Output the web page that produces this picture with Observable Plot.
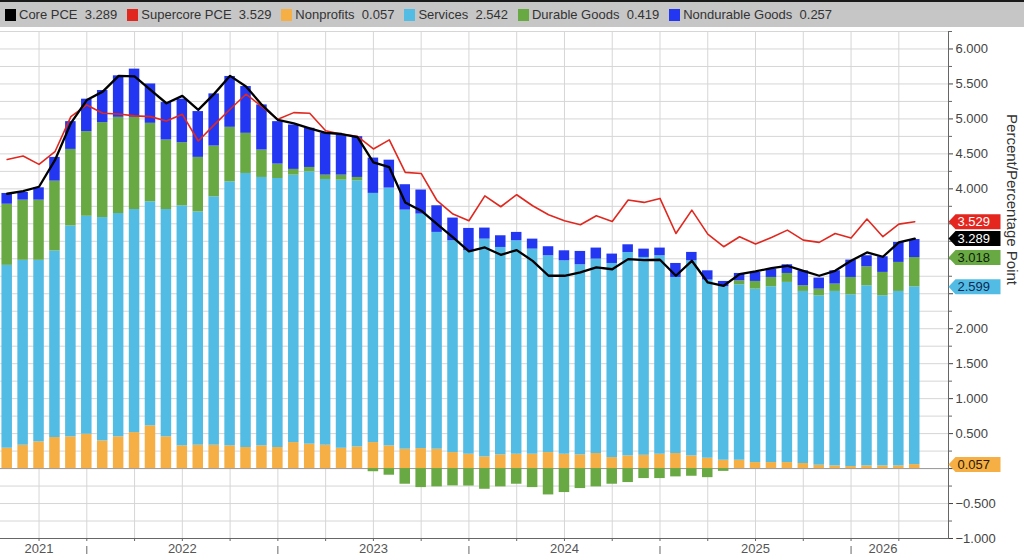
<!DOCTYPE html>
<html><head><meta charset="utf-8">
<script src="https://cdn.jsdelivr.net/npm/d3@7"></script>
<script src="https://cdn.jsdelivr.net/npm/@observablehq/plot@0.6"></script>
<style>
body{margin:0;background:#fff;font-family:"Liberation Sans",Arial,sans-serif;}
#legend{height:25px;border-top:2px solid #1a1a1a;background:#c6c6c6;display:flex;align-items:center;font-size:13px;color:#333;white-space:pre;padding-left:5px;box-sizing:content-box;}
.item{display:flex;align-items:center;margin-right:10px;}
.sw{width:11px;height:12px;margin-right:3px;}
#chart svg{display:block;}
</style></head><body>
<div id="legend"></div><div id="chart"></div>
<script>
// Monthly index 0..57 (mid-2021 .. early 2026)
const nonprofits = [0.291,0.334,0.382,0.444,0.454,0.491,0.396,0.454,0.515,0.611,0.454,0.325,0.334,0.334,0.325,0.301,0.325,0.301,0.372,0.349,0.334,0.290,0.310,0.372,0.324,0.277,0.286,0.277,0.229,0.205,0.167,0.196,0.205,0.205,0.229,0.205,0.196,0.215,0.157,0.181,0.190,0.205,0.215,0.181,0.148,0.119,0.119,0.086,0.086,0.086,0.072,0.048,0.038,0.029,0.038,0.038,0.038,0.057];
const services = [2.615,2.644,2.596,2.667,3.016,3.117,3.193,3.193,3.189,3.203,3.250,3.432,3.336,3.552,3.775,3.919,3.838,3.847,3.824,3.895,3.800,3.834,3.806,3.563,3.687,3.419,3.353,3.100,3.029,2.910,3.114,2.966,3.053,2.933,2.814,2.766,2.718,2.780,2.776,2.909,2.829,2.838,2.518,2.790,2.547,2.481,2.509,2.480,2.514,2.576,2.461,2.423,2.495,2.456,2.576,2.433,2.495,2.542];
const durable = [0.874,0.860,0.860,0.999,1.094,1.210,1.358,1.376,1.319,1.123,0.994,0.903,0.780,0.726,0.780,0.574,0.392,0.206,0.082,0.062,0.062,0.072,0.047,-0.045,-0.095,-0.224,-0.272,-0.262,-0.248,-0.250,-0.296,-0.262,-0.224,-0.272,-0.377,-0.343,-0.286,-0.262,-0.224,-0.200,-0.143,-0.143,-0.119,-0.110,-0.130,-0.040,0.057,0.110,0.133,0.128,0.081,0.095,0.105,0.248,0.271,0.334,0.415,0.419];
const nondurable = [0.154,0.110,0.177,0.340,0.397,0.464,0.459,0.593,0.689,0.563,0.536,0.622,0.655,0.746,0.727,0.669,0.645,0.607,0.635,0.560,0.598,0.574,0.583,0.505,0.399,0.363,0.344,0.381,0.324,0.319,0.158,0.167,0.119,0.143,0.129,0.143,0.191,0.158,0.134,0.110,0.119,0.110,0.200,0.120,0.133,0.076,0.105,0.129,0.119,0.124,0.214,0.158,0.190,0.248,0.158,0.224,0.286,0.257];
const corePCE = [3.930,3.967,4.030,4.410,4.940,5.270,5.390,5.616,5.607,5.415,5.224,5.330,5.130,5.358,5.616,5.463,5.200,4.985,4.937,4.866,4.800,4.784,4.740,4.378,4.310,3.806,3.687,3.496,3.305,3.105,3.162,3.057,3.124,2.970,2.757,2.757,2.805,2.876,2.850,2.995,2.980,2.986,2.757,2.971,2.661,2.614,2.780,2.819,2.867,2.900,2.828,2.757,2.828,2.971,3.090,3.029,3.234,3.289];
const supercorePCE = [4.420,4.469,4.350,4.531,5.033,5.200,5.080,5.070,5.043,5.033,4.970,5.066,4.684,4.914,5.138,5.353,5.177,4.995,5.090,5.081,4.830,4.780,4.750,4.570,4.700,4.235,4.220,3.830,3.640,3.544,3.900,3.744,3.916,3.758,3.630,3.544,3.486,3.615,3.534,3.840,3.806,3.863,3.362,3.696,3.353,3.172,3.315,3.210,3.305,3.410,3.267,3.234,3.362,3.296,3.568,3.315,3.496,3.529];

const seriesNames = ["Nonprofits","Services","Durable Goods","Nondurable Goods"];
const seriesColors = ["#f5af45","#52bce4","#69a944","#2337f2"];
const lineNames = ["Core PCE","Supercore PCE"];
const lineColors = ["#000000","#e0281f"];

// x-axis ticks (month index)
const quarterTicks = [2,5,8,11,14,17,20,23,26,29,32,35,38,41,44,47,50,53,56];
const yearBounds = [5,17,29,41,53];
const yearLabelPos = [2,11,23,35,47,55];
const yearLabelText = ["2021","2022","2023","2024","2025","2026"];
// y-axis ticks
const yMajor = [-1,-0.5,0,0.5,1,1.5,2,2.5,3,3.5,4,4.5,5,5.5,6];
const yMinor = [-0.75,-0.25,0.25,0.75,1.25,1.75,2.25,2.75,3.25,3.75,4.25,4.75,5.25,5.75,6.25];
const yGrid = yMajor.concat(yMinor);
const yTitle = "Percent/Percentage Point";

const fmt = d3.format(".3f");
const n = corePCE.length;
const idx = d3.range(n);
const seriesValues = [nonprofits, services, durable, nondurable];
const last = a => a[a.length - 1];

// Legend
const legend = document.getElementById("legend");
const legendEntries = [
  {name: lineNames[0], color: lineColors[0], v: last(corePCE)},
  {name: lineNames[1], color: lineColors[1], v: last(supercorePCE)},
  ...seriesNames.map((s, k) => ({name: s, color: seriesColors[k], v: last(seriesValues[k])}))
];
for (const e of legendEntries) {
  const it = document.createElement("div"); it.className = "item";
  const sw = document.createElement("div"); sw.className = "sw"; sw.style.background = e.color;
  const tx = document.createElement("span"); tx.textContent = e.name + "  " + fmt(e.v);
  it.appendChild(sw); it.appendChild(tx); legend.appendChild(it);
}

const stacked = seriesNames.flatMap((s, k) => idx.map(i => ({i, series: s, v: seriesValues[k][i]})));
const coreRows = idx.map(i => ({i, v: corePCE[i]}));
const superRows = idx.map(i => ({i, v: supercorePCE[i]}));
const yearLabels = yearLabelPos.map((i, k) => ({i, label: yearLabelText[k]}));

// right-axis value tags (cumulative stack tops)
const tags = [
  {v: last(supercorePCE), fill: "#e5261f", color: "#ffffff"},
  {v: last(corePCE), fill: "#000000", color: "#ffffff"},
  {v: last(nonprofits) + last(services) + last(durable), fill: "#69a944", color: "#10200a"},
  {v: last(nonprofits) + last(services), fill: "#52bce4", color: "#0d2a55"},
  {v: last(nonprofits), fill: "#f5af45", color: "#2a1a00"}
];
// tick labels hidden where a value tag sits on top of them
const hiddenTick = t => tags.some(g => Math.abs(g.v - t) < 0.2);
const tagSymbol = {draw(ctx) {
  ctx.moveTo(0, 0); ctx.lineTo(7, -7.5); ctx.lineTo(52, -7.5); ctx.lineTo(52, 7.5); ctx.lineTo(7, 7.5); ctx.closePath();
}};

const chart = Plot.plot({
  width: 1024, height: 531,
  marginLeft: 0, marginRight: 76, marginTop: 4, marginBottom: 20,
  x: {type: "linear", domain: [-0.42, 59.12], axis: null},
  y: {domain: [-1, 6.25], axis: null},
  color: {domain: seriesNames, range: seriesColors},
  style: {fontFamily: "Liberation Sans, Arial, sans-serif", fontSize: "13px", color: "#444", background: "#fff"},
  marks: [
    Plot.gridY({ticks: yGrid, stroke: "#d6d6d6", strokeOpacity: 1}),
    Plot.gridX({ticks: quarterTicks, stroke: "#d6d6d6", strokeOpacity: 1}),
    Plot.ruleY([0], {stroke: "#9a9a9a"}),
    Plot.rectY(stacked, {x1: d => d.i - 0.33, x2: d => d.i + 0.33, y: "v", fill: "series"}),
    Plot.line(superRows, {x: "i", y: "v", stroke: lineColors[1], strokeWidth: 1.6}),
    Plot.line(coreRows, {x: "i", y: "v", stroke: lineColors[0], strokeWidth: 2.3}),
    Plot.frame({anchor: "right", stroke: "#666"}),
    Plot.frame({anchor: "bottom", stroke: "#666"}),
    Plot.axisY({anchor: "right", ticks: yMajor, tickFormat: t => hiddenTick(t) ? "" : fmt(t), tickSize: 4, tickPadding: 3, label: null, color: "#444"}),
    Plot.axisY({anchor: "right", ticks: yMinor, tickFormat: () => "", tickSize: 3, label: null, color: "#666"}),
    Plot.axisX({ticks: quarterTicks, tickFormat: () => "", tickSize: 3, label: null, color: "#666"}),
    Plot.axisX({ticks: yearBounds, tickFormat: () => "", tickSize: 8, dy: 8, label: null, color: "#666"}),
    Plot.text(yearLabels, {x: "i", text: "label", frameAnchor: "bottom", dy: 14, fill: "#555", fontSize: 13}),
    ...tags.map(t => Plot.dot([t], {y: "v", frameAnchor: "right", symbol: tagSymbol, fill: t.fill, stroke: "none", r: 3})),
    ...tags.map(t => Plot.text([t], {y: "v", frameAnchor: "right", dx: 9, text: d => fmt(d.v), fill: t.color, textAnchor: "start", fontSize: 13})),
    Plot.text([yTitle], {frameAnchor: "right", rotate: 90, dx: 63, fontSize: 15, fill: "#333"})
  ]
});
document.getElementById("chart").appendChild(chart);
</script>
</body></html>
